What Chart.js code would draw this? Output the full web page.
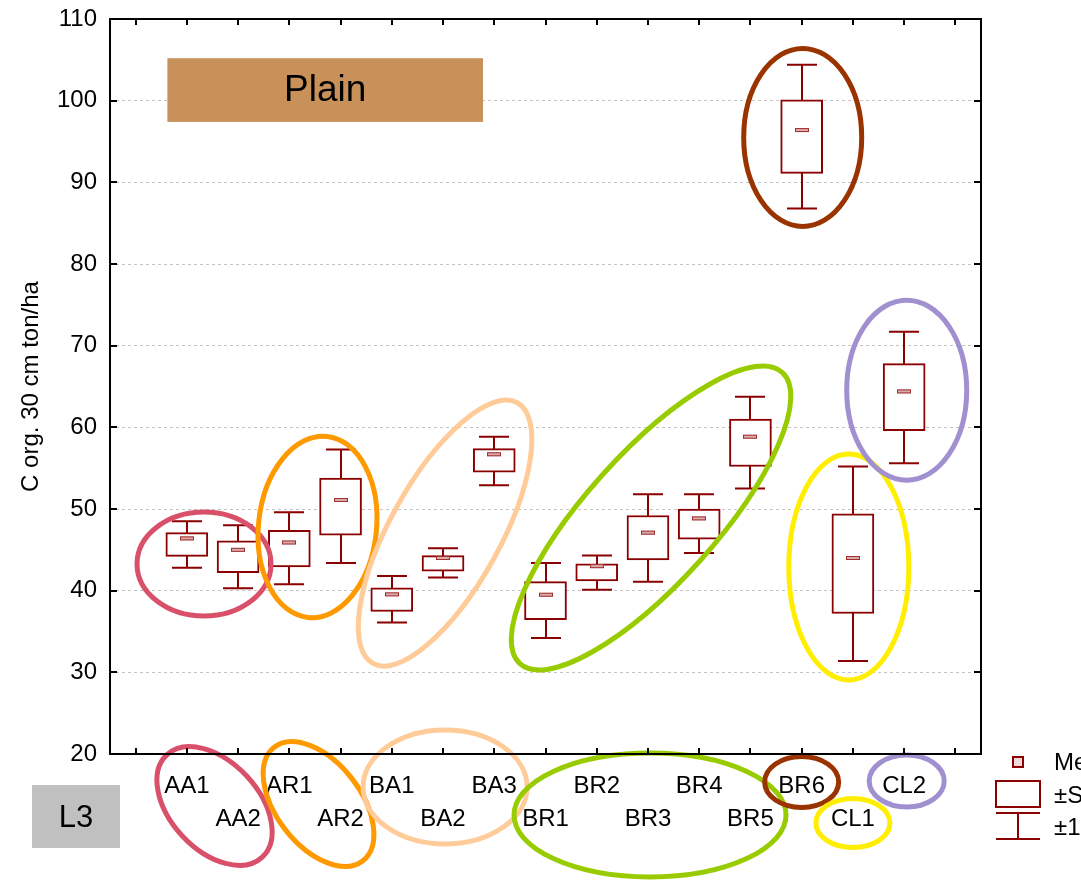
<!DOCTYPE html>
<html>
<head>
<meta charset="utf-8">
<script src="https://cdn.jsdelivr.net/npm/chart.js@4.4.1/dist/chart.umd.min.js"></script>
<style>
  html, body { margin: 0; padding: 0; background: #fff; }
  #wrap { position: relative; width: 1081px; height: 887px; }
</style>
</head>
<body>
<div id="wrap"><canvas id="c"></canvas></div>
<script>
// Soil organic carbon stock (0-30 cm) per site
const categories = ['AA1','AA2','AR1','AR2','BA1','BA2','BA3','BR1','BR2','BR3','BR4','BR5','BR6','CL1','CL2'];
const means      = [46.4, 45.0, 45.9, 51.1, 39.55, 44.0, 56.7, 39.5, 43.0, 47.1, 48.85, 58.85, 96.4, 44.0, 64.4];
const seLow      = [44.2, 42.2, 42.9, 46.8, 37.45, 42.4, 54.5, 36.45, 41.2, 43.75, 46.3, 55.2, 91.1, 37.2, 59.6];
const seHigh     = [47.1, 46.1, 47.4, 53.8, 40.36, 44.3, 57.4, 41.1, 43.3, 49.2, 50.0, 61.0, 100.1, 49.4, 67.8];
const ciLow      = [42.8, 40.3, 40.8, 43.4, 36.1, 41.6, 52.9, 34.2, 40.1, 41.1, 44.6, 52.5, 86.8, 31.4, 55.6];
const ciHigh     = [48.5, 48.0, 49.6, 57.3, 41.8, 45.2, 58.85, 43.4, 44.3, 51.8, 51.8, 63.75, 104.4, 55.2, 71.7];
const yTicks     = [20, 30, 40, 50, 60, 70, 80, 90, 100, 110];

// one empty slot on each side of the sites
const xLabels = ['', ...categories, ''];

const FONT = "'Liberation Sans', Arial, sans-serif";
const DARK_RED = '#8b0000';

// group rings inside the plot: centre in data units, radii in px
const plotRings = [
  { color: '#D9506A', x: 1.335, y: 43.26, rx: 67,  ry: 52,  rot: 0 },
  { color: '#FF9900', x: 3.55,  y: 47.8,  rx: 59,  ry: 91,  rot: 6 },
  { color: '#FFCC99', x: 6.04,  y: 47.05, rx: 149, ry: 55,  rot: -61 },
  { color: '#99CC00', x: 10.06, y: 48.9,  rx: 196, ry: 65,  rot: -48 },
  { color: '#993300', x: 13.02, y: 95.5,  rx: 59,  ry: 89,  rot: 0 },
  { color: '#FFEE00', x: 13.92, y: 42.9,  rx: 60,  ry: 113, rot: 0 },
  { color: '#A090D0', x: 15.05, y: 64.55, rx: 60,  ry: 90,  rot: 0 }
];
// matching rings round the site names, dy = px below the axis
const labelRings = [
  { color: '#D9506A', x: 1.54,  dy: 52, rx: 70,  ry: 44, rot: 47 },
  { color: '#FF9900', x: 3.57,  dy: 50, rx: 72,  ry: 42, rot: 52 },
  { color: '#FFCC99', x: 6.04,  dy: 33, rx: 82,  ry: 57, rot: 0 },
  { color: '#99CC00', x: 10.04, dy: 61, rx: 136, ry: 62, rot: 0 },
  { color: '#993300', x: 13.0,  dy: 28, rx: 37,  ry: 25.5, rot: 0 },
  { color: '#FFEE00', x: 14.0,  dy: 69, rx: 37,  ry: 24.5, rot: 0 },
  { color: '#A090D0', x: 15.05, dy: 27, rx: 37.5, ry: 26, rot: 0 }
];

function drawRing(ctx, cx, cy, r) {
  ctx.save();
  ctx.strokeStyle = r.color;
  ctx.lineWidth = 5;
  ctx.beginPath();
  ctx.ellipse(cx, cy, r.rx, r.ry, r.rot * Math.PI / 180, 0, Math.PI * 2);
  ctx.stroke();
  ctx.restore();
}

const boxDecor = {
  id: 'boxDecor',
  beforeDatasetsDraw(chart) {
    const { ctx, scales: { x, y } } = chart;
    ctx.save();
    ctx.strokeStyle = DARK_RED;
    ctx.lineWidth = 2;
    categories.forEach((c, i) => {
      const px = Math.round(x.getPixelForValue(i + 1));
      const top = y.getPixelForValue(ciHigh[i]);
      const bot = y.getPixelForValue(ciLow[i]);
      ctx.beginPath();
      ctx.moveTo(px, top); ctx.lineTo(px, bot);
      ctx.moveTo(px - 15, top); ctx.lineTo(px + 15, top);
      ctx.moveTo(px - 15, bot); ctx.lineTo(px + 15, bot);
      ctx.stroke();
    });
    ctx.restore();
  },
  afterDatasetsDraw(chart) {
    const { ctx, scales: { x, y }, chartArea } = chart;
    // mean markers
    ctx.save();
    categories.forEach((c, i) => {
      const px = Math.round(x.getPixelForValue(i + 1));
      const py = y.getPixelForValue(means[i]);
      ctx.fillStyle = '#dcaaaa';
      ctx.fillRect(px - 7, py - 2, 14, 4);
      ctx.strokeStyle = '#a03030';
      ctx.lineWidth = 1;
      ctx.strokeRect(px - 6.5, py - 1.5, 13, 3);
    });
    ctx.restore();

    // "Plain" banner
    const bx0 = x.getPixelForValue(0.62), bx1 = x.getPixelForValue(6.78);
    const by0 = y.getPixelForValue(105.2), by1 = y.getPixelForValue(97.4);
    ctx.save();
    ctx.fillStyle = '#C8915A';
    ctx.fillRect(bx0, by0, bx1 - bx0, by1 - by0);
    ctx.fillStyle = '#000';
    ctx.font = '37px ' + FONT;
    ctx.textAlign = 'center';
    ctx.textBaseline = 'middle';
    ctx.fillText('Plain', (bx0 + bx1) / 2, (by0 + by1) / 2 + 1);
    ctx.restore();

    plotRings.forEach(r => drawRing(ctx, x.getPixelForValue(r.x), y.getPixelForValue(r.y), r));
    labelRings.forEach(r => drawRing(ctx, x.getPixelForValue(r.x), chartArea.bottom + r.dy, r));
  },
  afterDraw(chart) {
    const { ctx, scales: { x, y }, chartArea: a } = chart;
    ctx.save();
    // frame with inward ticks
    ctx.strokeStyle = '#000';
    ctx.lineWidth = 2;
    ctx.strokeRect(a.left, a.top, a.right - a.left, a.bottom - a.top);
    ctx.beginPath();
    yTicks.forEach(v => {
      const py = Math.round(y.getPixelForValue(v));
      ctx.moveTo(a.left, py); ctx.lineTo(a.left + 7, py);
      ctx.moveTo(a.right, py); ctx.lineTo(a.right - 7, py);
    });
    xLabels.forEach((l, i) => {
      const px = Math.round(x.getPixelForValue(i));
      ctx.moveTo(px, a.bottom); ctx.lineTo(px, a.bottom - 6);
      ctx.moveTo(px, a.top); ctx.lineTo(px, a.top + 6);
    });
    ctx.stroke();

    // "L3" tag
    ctx.fillStyle = '#C0C0C0';
    ctx.fillRect(32, 785, 88, 63);
    ctx.fillStyle = '#000';
    ctx.font = '31px ' + FONT;
    ctx.textAlign = 'center';
    ctx.textBaseline = 'middle';
    ctx.fillText('L3', 76, 818);

    // legend
    const lx = a.right + 15;
    ctx.strokeStyle = DARK_RED;
    ctx.lineWidth = 2;
    ctx.fillStyle = '#f0d8d8';
    ctx.fillRect(lx + 17, 757, 10, 10);
    ctx.strokeRect(lx + 17, 757, 10, 10);
    ctx.strokeRect(lx, 781, 44, 26);
    ctx.beginPath();
    ctx.moveTo(lx, 813); ctx.lineTo(lx + 44, 813);
    ctx.moveTo(lx + 22, 813); ctx.lineTo(lx + 22, 839);
    ctx.moveTo(lx, 839); ctx.lineTo(lx + 44, 839);
    ctx.stroke();
    ctx.fillStyle = '#000';
    ctx.font = '24px ' + FONT;
    ctx.textAlign = 'left';
    ctx.textBaseline = 'middle';
    ctx.fillText('Mean', lx + 58, 763);
    ctx.fillText('±SE', lx + 58, 796);
    ctx.fillText('±1.96*SE', lx + 58, 828);
    ctx.restore();
  }
};

new Chart(document.getElementById('c'), {
  type: 'bar',
  data: {
    labels: xLabels,
    datasets: [{
      label: 'SE',
      data: xLabels.map((l, i) => (i >= 1 && i <= categories.length) ? [seLow[i - 1], seHigh[i - 1]] : null),
      backgroundColor: '#ffffff',
      borderColor: DARK_RED,
      borderWidth: 2,
      borderSkipped: false,
      barThickness: 42
    }]
  },
  options: {
    responsive: true,
    maintainAspectRatio: false,
    animation: false,
    layout: { padding: { top: 19, right: 100, left: 0, bottom: 0 } },
    plugins: { legend: { display: false }, tooltip: { enabled: false } },
    scales: {
      x: {
        grid: { display: false, drawTicks: false },
        border: { display: false },
        afterFit: s => { s.height = 133; s.paddingLeft = 0; s.paddingRight = 0; },
        ticks: {
          autoSkip: false,
          maxRotation: 0,
          padding: 16,
          color: '#000',
          font: { family: FONT, size: 24, lineHeight: 1.38 },
          callback: (v, i) => {
            const lab = xLabels[i];
            if (!lab) return ['', ''];
            return i % 2 === 1 ? [lab, ''] : ['', lab];
          }
        }
      },
      y: {
        min: 20,
        max: 110,
        afterFit: s => { s.width = 110; s.paddingTop = 0; s.paddingBottom = 0; },
        afterBuildTicks: s => { s.ticks = yTicks.map(v => ({ value: v })); },
        grid: {
          drawTicks: false,
          color: c => (c.tick && (c.tick.value === 20 || c.tick.value === 110)) ? 'rgba(0,0,0,0)' : '#c4c4c4',
          lineWidth: 1
        },
        border: { display: false, dash: [3, 3] },
        ticks: {
          padding: 13,
          color: '#000',
          font: { family: FONT, size: 24 }
        },
        title: {
          display: true,
          text: 'C org. 30 cm ton/ha',
          color: '#000',
          font: { family: FONT, size: 24 },
          padding: { top: 17, bottom: 0 }
        }
      }
    }
  },
  plugins: [boxDecor]
});
</script>
</body>
</html>
